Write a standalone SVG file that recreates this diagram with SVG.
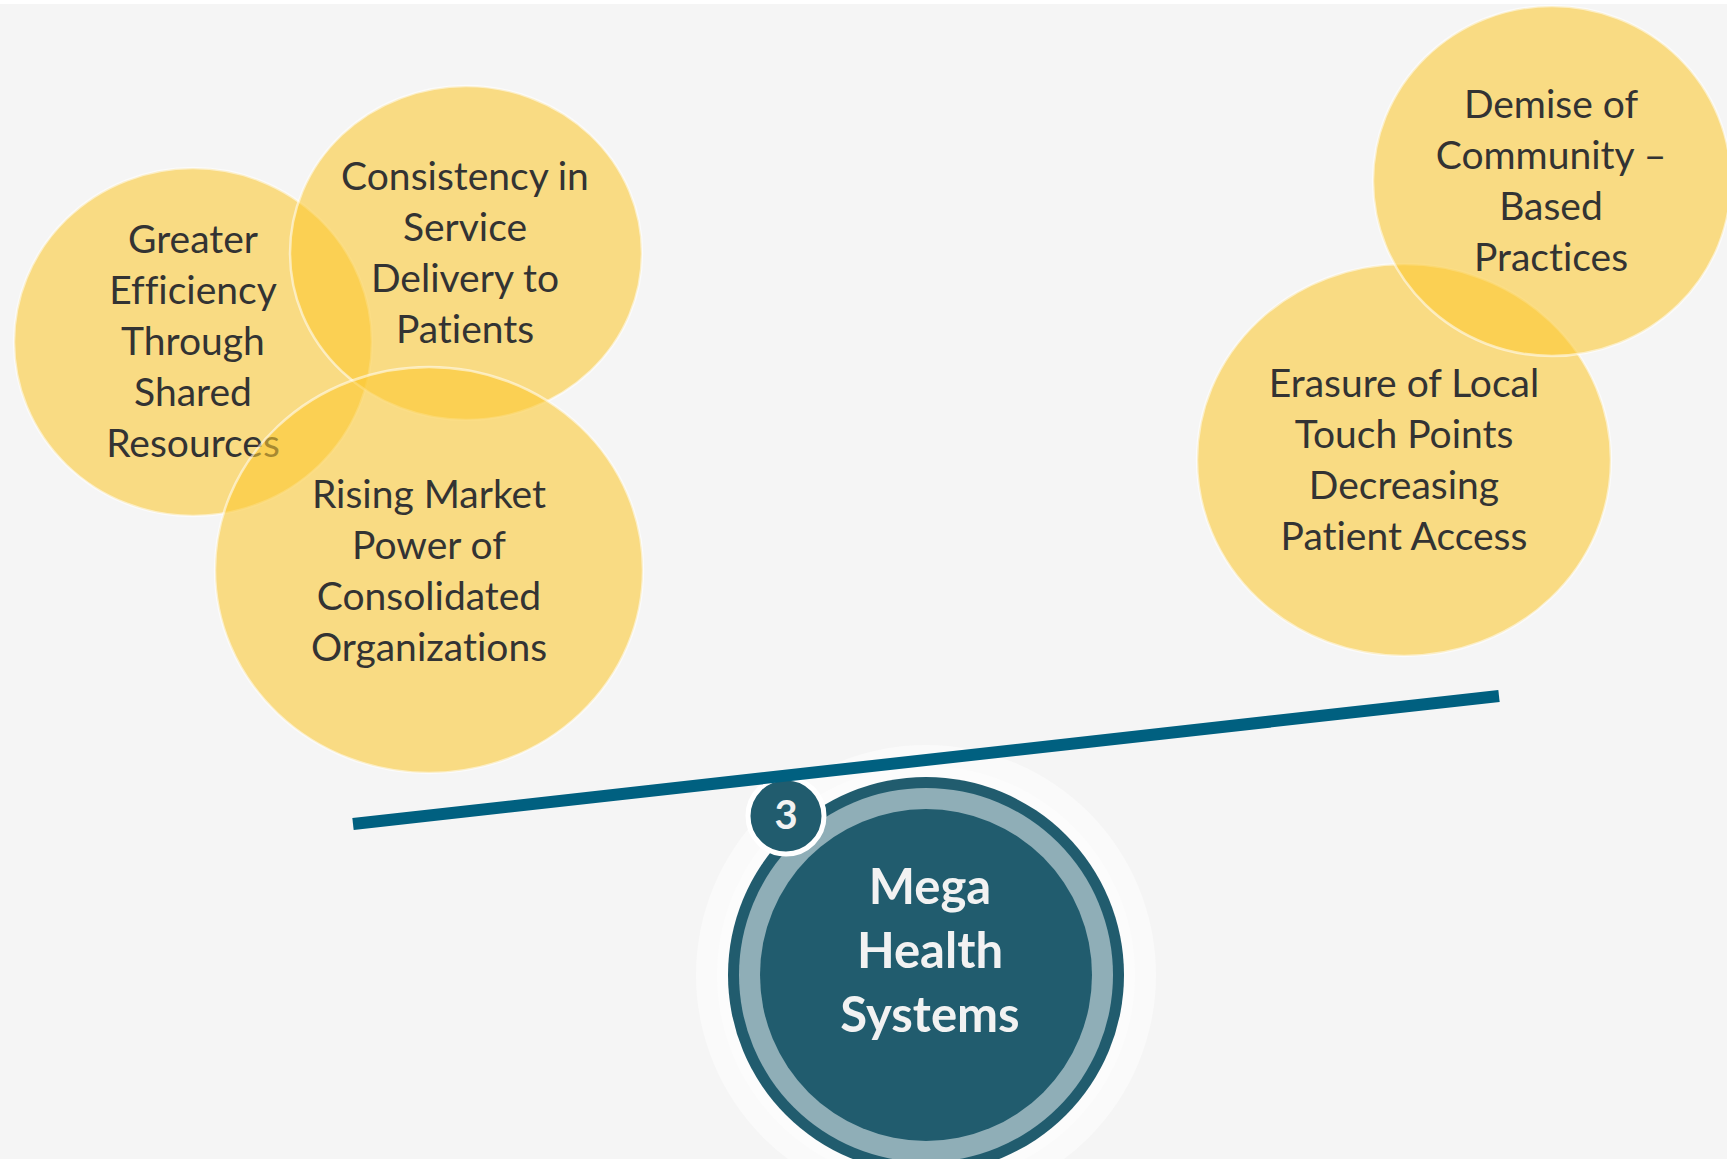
<svg xmlns="http://www.w3.org/2000/svg" width="1727" height="1159" viewBox="0 0 1727 1159">
<style>
.bub{fill:#fcc830;fill-opacity:0.58;stroke:#ffffff;stroke-opacity:0.55;stroke-width:2.5}
.lbl{font-family:Lato,"Open Sans","Liberation Sans",sans-serif;font-size:39px;fill:#333333;text-anchor:middle;font-variant-ligatures:none}
.ctr{font-family:Lato,"Open Sans","Liberation Sans",sans-serif;font-weight:bold;fill:#f2f2f2;text-anchor:middle}
</style>
<rect x="0" y="0" width="1727" height="1159" fill="#f5f5f5"/>
<rect x="0" y="0" width="1727" height="4" fill="#ffffff"/>

<g id="node-efficiency">
<ellipse class="bub" cx="193" cy="342" rx="179" ry="174"/>
<text class="lbl"><tspan x="193" y="253">Greater</tspan><tspan x="193" y="304">Efficiency</tspan><tspan x="193" y="355">Through</tspan><tspan x="193" y="406">Shared</tspan><tspan x="193" y="457">Resources</tspan></text>
</g>
<g id="node-consistency">
<ellipse class="bub" cx="466" cy="253" rx="176" ry="167"/>
<text class="lbl"><tspan x="465" y="190">Consistency in</tspan><tspan x="465" y="241">Service</tspan><tspan x="465" y="292">Delivery to</tspan><tspan x="465" y="343">Patients</tspan></text>
</g>
<g id="node-market">
<ellipse class="bub" cx="429" cy="570" rx="214" ry="203"/>
<text class="lbl"><tspan x="429" y="508">Rising Market</tspan><tspan x="429" y="559">Power of</tspan><tspan x="429" y="610">Consolidated</tspan><tspan x="429" y="661">Organizations</tspan></text>
</g>
<g id="node-erasure">
<ellipse class="bub" cx="1404" cy="460" rx="207" ry="196"/>
<text class="lbl"><tspan x="1404" y="397">Erasure of Local</tspan><tspan x="1404" y="448">Touch Points</tspan><tspan x="1404" y="499">Decreasing</tspan><tspan x="1404" y="550">Patient Access</tspan></text>
</g>
<g id="node-demise">
<ellipse class="bub" cx="1552" cy="181" rx="179" ry="175"/>
<text class="lbl"><tspan x="1551" y="118">Demise of</tspan><tspan x="1551" y="169">Community –</tspan><tspan x="1551" y="220">Based</tspan><tspan x="1551" y="271">Practices</tspan></text>
</g>

<g id="node-center">
<circle cx="926" cy="975" r="230" fill="#fafafa"/>
<circle cx="926" cy="975" r="209" fill="#fcfcfc"/>
<circle cx="926" cy="975" r="198" fill="#215c6e"/>
<circle cx="926" cy="975" r="187" fill="#8faeb7"/>
<circle cx="926" cy="975" r="166" fill="#215c6e"/>
<text class="ctr" font-size="49"><tspan x="930" y="904">Mega</tspan><tspan x="930" y="968">Health</tspan><tspan x="930" y="1032">Systems</tspan></text>
</g>

<g id="node-badge">
<circle cx="786" cy="816" r="38" fill="#215c6e" stroke="#ffffff" stroke-width="5"/>
<text class="ctr" font-size="40" x="786" y="829" fill="#ffffff">3</text>
</g>

<g id="connectors">
<line x1="353" y1="824" x2="1499" y2="696" stroke="#006080" stroke-width="12"/>
</g>
</svg>
